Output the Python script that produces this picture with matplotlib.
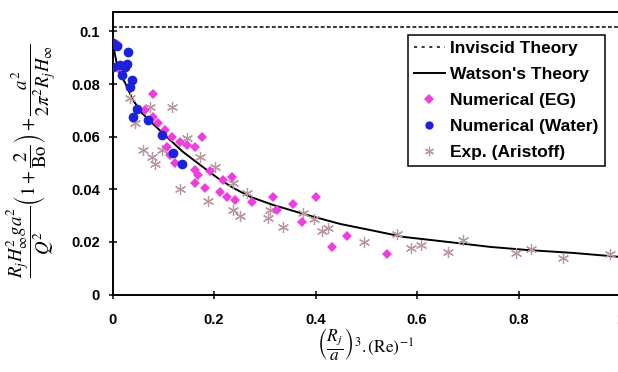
import matplotlib
matplotlib.use("Agg")
import matplotlib.pyplot as plt

# Inviscid limit (constant)
inviscid_level = 0.1015

# Watson's theory curve
watson_x = [0.000, 0.011, 0.025, 0.040, 0.058, 0.078, 0.107, 0.139, 0.173, 0.207,
            0.238, 0.272, 0.317, 0.384, 0.449, 0.508, 0.573, 0.660, 0.744, 0.818,
            0.908, 1.000]
watson_y = [0.0960, 0.0852, 0.0804, 0.0740, 0.0690, 0.0652, 0.0599, 0.0542, 0.0492, 0.0443,
            0.0405, 0.0371, 0.0340, 0.0302, 0.0268, 0.0245, 0.0219, 0.0200, 0.0181, 0.0169,
            0.0158, 0.0143]

# Numerical results, ethylene glycol
eg_x = [0.011, 0.011, 0.080, 0.064, 0.080, 0.090, 0.104, 0.117, 0.133, 0.107,
        0.147, 0.163, 0.177, 0.113, 0.123, 0.163, 0.169, 0.192, 0.218, 0.236,
        0.163, 0.182, 0.212, 0.226, 0.242, 0.275, 0.317, 0.356, 0.401, 0.324,
        0.374, 0.433, 0.462, 0.541]
eg_y = [0.0949, 0.0861, 0.0762, 0.0701, 0.0675, 0.0652, 0.0625, 0.0599, 0.0580, 0.0561,
        0.0568, 0.0561, 0.0599, 0.0530, 0.0500, 0.0473, 0.0454, 0.0470, 0.0435, 0.0447,
        0.0424, 0.0405, 0.0390, 0.0371, 0.0359, 0.0352, 0.0371, 0.0344, 0.0371, 0.0321,
        0.0276, 0.0181, 0.0222, 0.0154]

# Numerical results, water
water_x = [0.001, 0.009, 0.031, 0.001, 0.015, 0.025, 0.029, 0.019, 0.038, 0.035,
           0.048, 0.040, 0.070, 0.098, 0.120, 0.137]
water_y = [0.0956, 0.0945, 0.0922, 0.0863, 0.0871, 0.0863, 0.0878, 0.0833, 0.0814, 0.0789,
           0.0705, 0.0675, 0.0663, 0.0606, 0.0538, 0.0496]

# Experiments (Aristoff)
exp_x = [0.035, 0.074, 0.117, 0.044, 0.060, 0.078, 0.084, 0.098, 0.147, 0.173,
         0.133, 0.202, 0.188, 0.238, 0.265, 0.238, 0.251, 0.307, 0.311, 0.336,
         0.376, 0.397, 0.413, 0.425, 0.496, 0.561, 0.589, 0.608, 0.662, 0.691,
         0.796, 0.824, 0.887, 0.981]
exp_y = [0.0747, 0.0713, 0.0713, 0.0652, 0.0549, 0.0523, 0.0496, 0.0549, 0.0595, 0.0523,
         0.0401, 0.0485, 0.0355, 0.0424, 0.0386, 0.0321, 0.0298, 0.0291, 0.0321, 0.0257,
         0.0310, 0.0287, 0.0241, 0.0253, 0.0200, 0.0230, 0.0177, 0.0188, 0.0162, 0.0207,
         0.0158, 0.0173, 0.0139, 0.0154]

x_ticks = [0, 0.2, 0.4, 0.6, 0.8, 1]
x_tick_labels = ["0", "0.2", "0.4", "0.6", "0.8", "1"]
y_ticks = [0, 0.02, 0.04, 0.06, 0.08, 0.1]
y_tick_labels = ["0", "0.02", "0.04", "0.06", "0.08", "0.1"]

plt.rcParams["font.family"] = ["Liberation Sans", "DejaVu Sans"]
plt.rcParams["mathtext.fontset"] = "stix"

fig = plt.figure(figsize=(6.18, 3.72), dpi=100)
ax = fig.add_axes([112.5 / 618, 1 - 294.5 / 372, 507.5 / 618, 282.8 / 372])

ax.axhline(inviscid_level, color="black", linestyle=(0, (2.5, 1.5)), linewidth=1.1,
           label="Inviscid Theory")
ax.plot(watson_x, watson_y, color="black", linewidth=1.4, label="Watson's Theory")
ax.plot(exp_x, exp_y, linestyle="none", marker=(6, 2, 0), markersize=8,
        markeredgewidth=0.9, color="#b8979f", label="Exp. (Aristoff)", zorder=3)
ax.plot(eg_x, eg_y, linestyle="none", marker="D", markersize=5.5,
        color="#f03ede", markeredgewidth=0, label="Numerical (EG)", zorder=4)
ax.plot(water_x, water_y, linestyle="none", marker="o", markersize=7,
        color="#1a22dc", markeredgewidth=0, label="Numerical (Water)", zorder=5)

ax.set_xlim(0, 1)
ax.set_ylim(0, 0.1075)
ax.set_xticks(x_ticks)
ax.set_xticklabels(x_tick_labels)
ax.set_yticks(y_ticks)
ax.set_yticklabels(y_tick_labels)
ax.tick_params(direction="inout", length=6, width=1.1, labelsize=10.5)
ax.tick_params(axis="x", pad=10)
ax.tick_params(axis="y", pad=6)
for lbl in ax.get_xticklabels() + ax.get_yticklabels():
    lbl.set_fontweight("bold")
for spine in ax.spines.values():
    spine.set_linewidth(1.4)

handles, labels = ax.get_legend_handles_labels()
order = [0, 1, 3, 4, 2]
leg = ax.legend([handles[i] for i in order], [labels[i] for i in order],
                loc="upper right", bbox_to_anchor=(0.970, 0.918), borderaxespad=0,
                fancybox=False, edgecolor="black", framealpha=1,
                prop={"weight": "bold", "size": 12.5}, handlelength=1.8,
                handletextpad=0.3, labelspacing=0.62, borderpad=0.35,
                markerscale=0.85)
leg.get_frame().set_linewidth(1.1)
# sparser dashes on the legend sample of the inviscid line
leg.get_lines()[0].set_linestyle((0, (2, 3)))

fig.text(31 / 618, 1 - 161 / 372,
         r"$\dfrac{R_j H_\infty^2 g a^2}{Q^2}\left(1+\dfrac{2}{\mathrm{Bo}}\right)"
         r"+\dfrac{a^2}{2\pi^2 R_j H_\infty}$",
         rotation=90, ha="center", va="center", fontsize=13.5)
fig.text(366 / 618, 1 - 344 / 372,
         r"$\left(\dfrac{R_j}{a}\right)^3 .(\mathrm{Re})^{-1}$",
         ha="center", va="center", fontsize=12.5)

fig.savefig("out.png", dpi=100)
